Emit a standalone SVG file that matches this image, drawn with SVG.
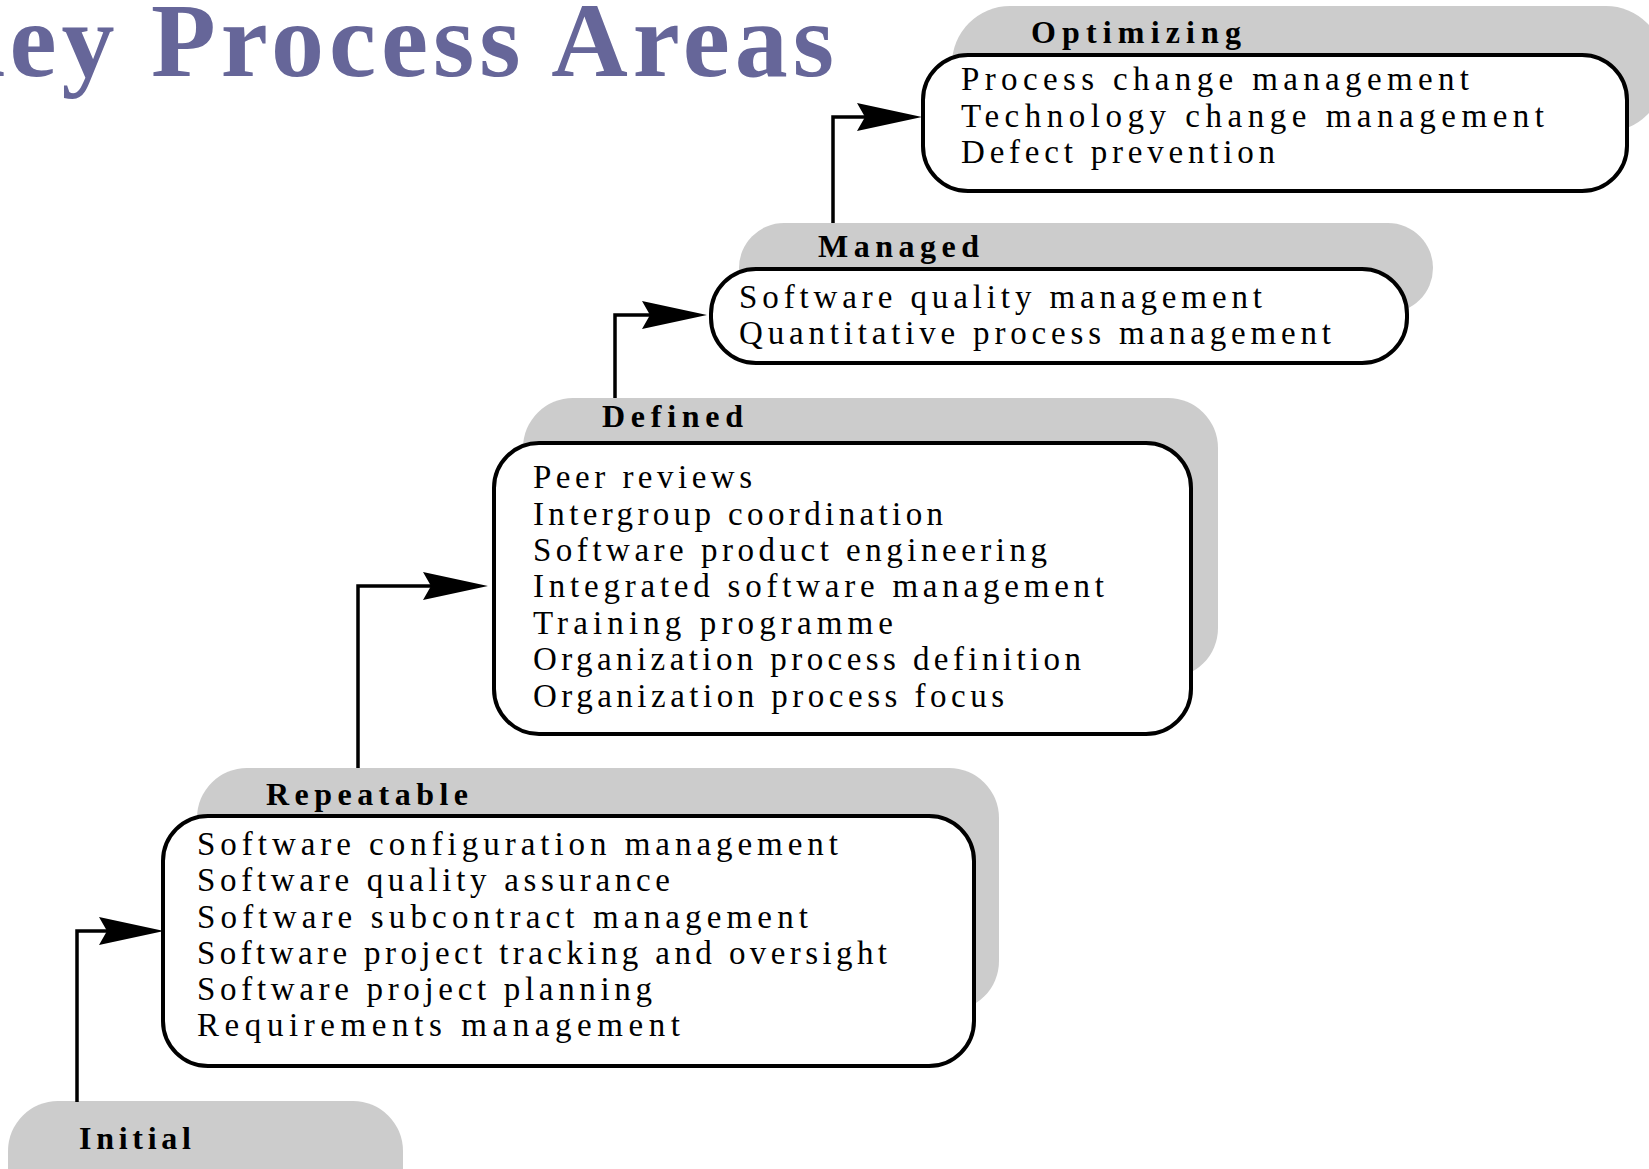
<svg xmlns="http://www.w3.org/2000/svg" width="1649" height="1169" viewBox="0 0 1649 1169">
  <style>
    .title { font-family: "Liberation Serif", "Times New Roman", serif; font-weight: bold; font-size: 106px; fill: #666699; }
    .shade { fill: #cccccc; }
    .box { fill: #ffffff; stroke: #000000; stroke-width: 4; }
    .level { font-family: "Liberation Serif", "Times New Roman", serif; font-weight: bold; font-size: 32px; fill: #000000; }
    .kpa { font-family: "Liberation Serif", "Times New Roman", serif; font-size: 33px; fill: #000000; }
    .link { fill: none; stroke: #000000; stroke-width: 3.5; }
  </style>
  <defs>
    <marker id="barb" markerUnits="userSpaceOnUse" viewBox="-9 -15 67 30" markerWidth="67" markerHeight="30" refX="0" refY="0" orient="auto">
      <path d="M57,0 L-8,-14 L0,0 L-8,14 Z" fill="#000000"/>
    </marker>
  </defs>

  <rect width="1649" height="1169" fill="#ffffff"/>

  <text class="title" x="-78" y="76" letter-spacing="5">Key Process Areas</text>

  <!-- Initial -->
  <g id="initial">
    <rect class="shade" x="8" y="1101" width="395" height="120" rx="50"/>
    <text class="level" x="79" y="1149" textLength="112" lengthAdjust="spacing">Initial</text>
  </g>

  <!-- Repeatable -->
  <g id="repeatable">
    <rect class="shade" x="197" y="768" width="802" height="243" rx="50"/>
    <rect class="box" x="163" y="816" width="811" height="250" rx="45"/>
    <text class="level" x="266" y="805" textLength="202" lengthAdjust="spacing">Repeatable</text>
    <text class="kpa" x="197" y="855" textLength="641" lengthAdjust="spacing">Software configuration management</text>
    <text class="kpa" x="197" y="891" textLength="473" lengthAdjust="spacing">Software quality assurance</text>
    <text class="kpa" x="197" y="928" textLength="611" lengthAdjust="spacing">Software subcontract management</text>
    <text class="kpa" x="197" y="964" textLength="690" lengthAdjust="spacing">Software project tracking and oversight</text>
    <text class="kpa" x="197" y="1000" textLength="455" lengthAdjust="spacing">Software project planning</text>
    <text class="kpa" x="197" y="1036" textLength="483" lengthAdjust="spacing">Requirements management</text>
  </g>

  <!-- Defined -->
  <g id="defined">
    <rect class="shade" x="523" y="398" width="695" height="280" rx="50"/>
    <rect class="box" x="494" y="443" width="697" height="291" rx="45"/>
    <text class="level" x="602" y="427" textLength="141" lengthAdjust="spacing">Defined</text>
    <text class="kpa" x="533" y="488" textLength="219" lengthAdjust="spacing">Peer reviews</text>
    <text class="kpa" x="533" y="525" textLength="410" lengthAdjust="spacing">Intergroup coordination</text>
    <text class="kpa" x="533" y="561" textLength="514" lengthAdjust="spacing">Software product engineering</text>
    <text class="kpa" x="533" y="597" textLength="571" lengthAdjust="spacing">Integrated software management</text>
    <text class="kpa" x="533" y="634" textLength="360" lengthAdjust="spacing">Training programme</text>
    <text class="kpa" x="533" y="670" textLength="548" lengthAdjust="spacing">Organization process definition</text>
    <text class="kpa" x="533" y="707" textLength="471" lengthAdjust="spacing">Organization process focus</text>
  </g>

  <!-- Managed -->
  <g id="managed">
    <rect class="shade" x="739" y="223" width="694" height="90" rx="45"/>
    <rect class="box" x="711" y="269" width="696" height="94" rx="45"/>
    <text class="level" x="818" y="257" textLength="161" lengthAdjust="spacing">Managed</text>
    <text class="kpa" x="739" y="308" textLength="523" lengthAdjust="spacing">Software quality management</text>
    <text class="kpa" x="739" y="344" textLength="592" lengthAdjust="spacing">Quantitative process management</text>
  </g>

  <!-- Optimizing -->
  <g id="optimizing">
    <rect class="shade" x="952" y="6" width="712" height="126" rx="58"/>
    <rect class="box" x="923" y="55" width="704" height="136" rx="45"/>
    <text class="level" x="1031" y="43" textLength="210" lengthAdjust="spacing">Optimizing</text>
    <text class="kpa" x="961" y="90" textLength="508" lengthAdjust="spacing">Process change management</text>
    <text class="kpa" x="961" y="127" textLength="583" lengthAdjust="spacing">Technology change management</text>
    <text class="kpa" x="961" y="163" textLength="314" lengthAdjust="spacing">Defect prevention</text>
  </g>

  <!-- Step connectors between maturity levels -->
  <g id="connectors">
    <path class="link" d="M77,1102 V931 H107" marker-end="url(#barb)"/>
    <path class="link" d="M358,768 V586 H431" marker-end="url(#barb)"/>
    <path class="link" d="M615,398 V315 H650" marker-end="url(#barb)"/>
    <path class="link" d="M833,223 V117 H865" marker-end="url(#barb)"/>
  </g>
</svg>
